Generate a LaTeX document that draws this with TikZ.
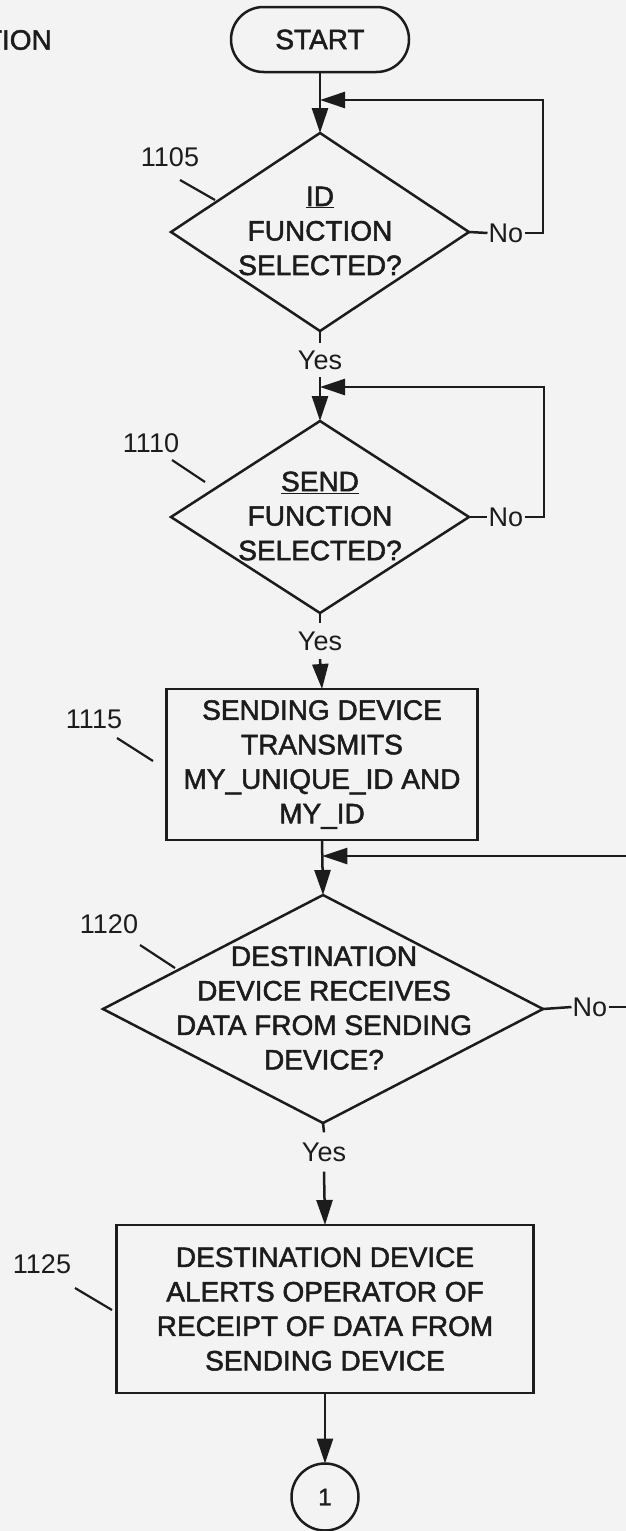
\documentclass[tikz,border=0pt]{standalone}
\usepackage{fontspec}
\setmainfont{Liberation Sans}
\newfontfamily\heavy{Liberation Sans}[FakeBold=1.8]
\usetikzlibrary{shapes.geometric,arrows.meta}
\definecolor{bg}{HTML}{F3F3F3}
\definecolor{ink}{HTML}{1C1C1C}
\begin{document}
\begin{tikzpicture}[x=1pt,y=-1pt,line width=2.5pt,color=ink,
  txt/.style={font=\heavy\fontsize{28}{34.5}\selectfont,text=ink,align=center,inner sep=0pt},
  lbl/.style={font=\fontsize{27}{30}\selectfont,text=ink,inner sep=0pt},
  dia/.style={diamond,draw=ink,inner sep=0pt,outer sep=0pt},
  box/.style={rectangle,draw=ink,inner sep=0pt,outer sep=0pt},
  yeslbl/.style={lbl,inner xsep=0pt},
  arr/.style={-{Triangle[length=25pt,width=16pt]}},
  leader/.style={line width=2.2pt}]
\useasboundingbox (0,0) rectangle (626,1531);
\clip (0,0) rectangle (626,1531);
\fill[bg] (0,0) rectangle (626,1531);

% partial title at top left
\node[txt,anchor=east] (tion) at (53,40) {TION};

% nodes
\node[txt,box,rounded corners=32.5pt,minimum width=178pt,minimum height=65pt] (start) at (320,39.5) {START};

\node[dia,minimum width=298pt,minimum height=198pt] (d1) at (320,232) {};
\node[txt] (t1) at (320,231) {\underline{ID}\\FUNCTION\\SELECTED?};
\node[yeslbl,inner ysep=6.5pt] (y1) at (320,360) {Yes};
\node[lbl] (n1) at (506,233) {No};

\node[dia,minimum width=298pt,minimum height=192pt] (d2) at (320,517) {};
\node[txt] (t2) at (320,516) {\underline{SEND}\\FUNCTION\\SELECTED?};
\node[yeslbl,inner ysep=7.5pt] (y2) at (320,641) {Yes};
\node[lbl] (n2) at (506,517) {No};

\node[txt,box,minimum width=311pt,minimum height=151pt] (b1) at (322,764.5)
  {SENDING DEVICE\\TRANSMITS\\MY\_UNIQUE\_ID AND\\MY\_ID};

\node[dia,minimum width=440pt,minimum height=228pt] (d3) at (323,1009) {};
\node[txt] (t3) at (324,1008) {DESTINATION\\DEVICE RECEIVES\\DATA FROM SENDING\\DEVICE?};
\node[yeslbl,inner ysep=9pt] (y3) at (324,1152) {Yes};
\node[lbl] (n3) at (590,1007) {No};

\node[txt,box,minimum width=417pt,minimum height=168pt] (b2) at (325,1309)
  {DESTINATION DEVICE\\ALERTS OPERATOR OF\\RECEIPT OF DATA FROM\\SENDING DEVICE};

\node[circle,draw=ink,minimum size=67pt,inner sep=0pt,outer sep=0pt,
  font=\heavy\fontsize{24}{26}\selectfont] (c1) at (325,1497) {1};

% reference numerals
\node[lbl] (r1105) at (170,157) {1105};
\node[lbl] (r1110) at (151,443) {1110};
\node[lbl] (r1115) at (94,719) {1115};
\node[lbl] (r1120) at (109,924) {1120};
\node[lbl] (r1125) at (42,1264) {1125};

\coordinate (a1) at (180,180);  \coordinate (e1) at (215,200);
\coordinate (a2) at (172,460);  \coordinate (e2) at (205,482);
\coordinate (a3) at (117,738);  \coordinate (e3) at (153,761);
\coordinate (a4) at (140,945);  \coordinate (e4) at (175,968);
\coordinate (a5) at (75,1288);  \coordinate (e5) at (112,1310);
\draw[leader] (a1) -- (e1);
\draw[leader] (a2) -- (e2);
\draw[leader] (a3) -- (e3);
\draw[leader] (a4) -- (e4);
\draw[leader] (a5) -- (e5);

% junction points of the loops
\coordinate (j1) at (320,100);
\coordinate (j2) at (320,387);
\coordinate (j3) at (322.3,856);

% main flow
\draw[arr] (start.south) -- (d1.north);
\draw (d1.south) -- (y1.north);
\draw[arr] (y1.south) -- (d2.north);
\draw (d2.south) -- (y2.north);
\draw[arr] (y2.south) -- (b1.north);
\draw[arr] (b1.south) -- (d3.north);
\draw (d3.south) -- (y3.north);
\draw[arr] (y3.south) -- (b2.north);
\draw[arr] (b2.south) -- (c1.north);

% No branches
\draw (d1.east) -- (n1.west);
\draw[arr] (n1.east) -- (543,233) |- (j1);
\draw (d2.east) -- (n2.west);
\draw[arr] (n2.east) -- (544,517) |- (j2);
\draw (d3.east) -- (n3.west);
\draw[arr] (n3.east) -- (640,1007) |- (j3);
\end{tikzpicture}
\end{document}
